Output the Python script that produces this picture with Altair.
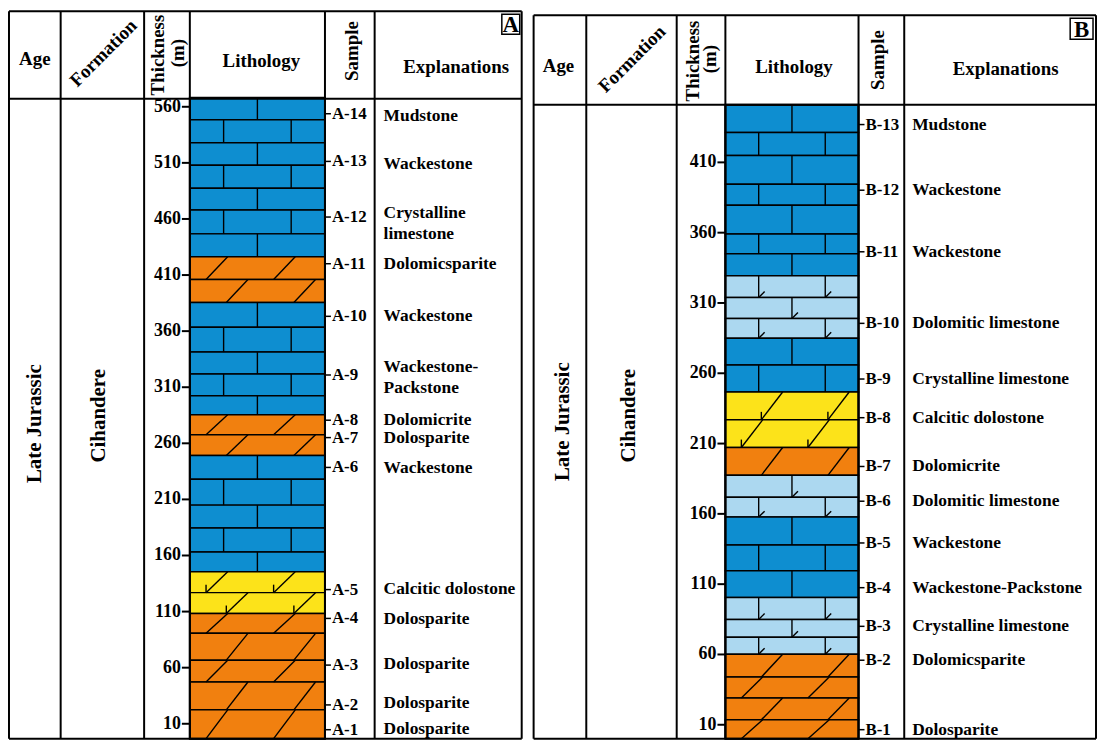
import altair as alt
import pandas as pd

FONT = "Liberation Serif"
ROCKS = ["L", "DL", "D", "C"]
ROCK_COLORS = ["#0e8ed0", "#acd8f0", "#f1800f", "#fce31a"]

# ---------------- Panel A values (metres) ----------------
A_ticks = [10, 60, 110, 160, 210, 260, 310, 360, 410, 460, 510, 560]
A_bounds = [568, 548.5, 528, 507.8, 487.4, 468, 446.7, 426.3, 406, 385.6,
            363.4, 341.3, 321.8, 302.3, 285.5, 267.7, 249.2, 227.9, 204.9,
            184.5, 163.2, 145.5, 126.9, 108.3, 90.6, 66.7, 47.2, 22.4, -3.3]
A_rock = ["L"] * 7 + ["D"] * 2 + ["L"] * 5 + ["D"] * 2 + ["L"] * 5 + ["C"] * 2 + ["D"] * 5
A_variant = [0, 1, 0, 1, 0, 1, 0, 0, 1, 0, 1, 0, 1, 0, 0, 1,
             0, 1, 0, 1, 0, 0, 1, 0, 1, 0, 1, 0]
A_samples = ["A-14", "A-13", "A-12", "A-11", "A-10", "A-9", "A-8", "A-7",
             "A-6", "A-5", "A-4", "A-3", "A-2", "A-1"]
A_sample_pos = [553.8, 511.3, 461.7, 420.1, 373.2, 320.9, 280.6, 265.1,
                238.5, 129.6, 103.9, 62.3, 26.8, 4.7]
A_expl = ["Mudstone", "Wackestone", "Crystalline", "limestone", "Dolomicsparite",
          "Wackestone", "Wackestone-", "Packstone", "Dolomicrite", "Dolosparite",
          "Wackestone", "Calcitic dolostone", "Dolosparite", "Dolosparite",
          "Dolosparite", "Dolosparite"]
A_expl_pos = [552.1, 508.7, 465.3, 446.7, 420.1, 373.2, 328.0, 309.4, 281.2,
              264.9, 237.6, 130.5, 103.0, 63.1, 28.6, 5.6]

# ---------------- Panel B values (metres) ----------------
B_ticks = [10, 60, 110, 160, 210, 260, 310, 360, 410]
B_bounds = [451, 431.2, 414.9, 394.5, 379.5, 359.1, 345, 329.4, 313.9, 299,
            284.9, 265.8, 246.7, 226.9, 207.2, 187.4, 171.8, 157.7, 137.9,
            119.5, 100.5, 84.9, 72.2, 60.2, 43.9, 29.1, 13.5, 0]
B_rock = (["L"] * 7 + ["DL"] * 3 + ["L"] * 2 + ["C"] * 2 + ["D"] + ["DL"] * 2
          + ["L"] * 3 + ["DL"] * 3 + ["D"] * 4)
B_variant = [0, 1, 0, 1, 0, 1, 0, 1, 0, 1, 0, 1, 1, 0, 1, 0, 1, 0, 1, 0,
             1, 0, 1, 1, 0, 1, 0]
B_samples = ["B-13", "B-12", "B-11", "B-10", "B-9", "B-8", "B-7", "B-6",
             "B-5", "B-4", "B-3", "B-2", "B-1"]
B_sample_pos = [436.9, 390.2, 346.4, 295.5, 255.9, 228.4, 193.7, 169.0,
                139.3, 107.5, 80.0, 55.9, 6.5]
B_expl = ["Mudstone", "Wackestone", "Wackestone", "Dolomitic limestone",
          "Crystalline limestone", "Calcitic dolostone", "Dolomicrite",
          "Dolomitic limestone", "Wackestone", "Wackestone-Packstone",
          "Crystalline limestone", "Dolomicsparite", "Dolosparite"]
B_expl_pos = B_sample_pos

# ---------------- layout (pixels, per panel) ----------------
GA = dict(W=524, H=734, ydom=(-4.17, 645.96), lith=(183, 319),
          cols=[1, 53, 137, 183, 319, 369, 517], top=1, head=89, bottom=733,
          expl_x=378,
          header=[("Age", 27, 49, 0, 19), ("Formation", 96, 43, 315, 19),
                  ("Thickness", 151, 45, 270, 19), ("(m)", 171, 43, 270, 19),
                  ("Lithology", 255, 51, 0, 19), ("Sample", 346, 41, 270, 19),
                  ("Explanations", 451, 57, 0, 19),
                  ("Late Jurassic", 27, 416, 270, 21), ("Cihandere", 92, 408, 270, 21)],
          box=("A", 497, 4, 515, 24))
GB = dict(W=572, H=734, ydom=(-0.60, 518.13), lith=(198, 332),
          cols=[5, 58, 149, 198, 332, 378, 571], top=5, head=95, bottom=733,
          expl_x=386,
          header=[("Age", 30, 56, 0, 19), ("Formation", 104, 49, 315, 19),
                  ("Thickness", 165, 51, 270, 19), ("(m)", 183, 49, 270, 19),
                  ("Lithology", 267, 57, 0, 19), ("Sample", 352, 50, 270, 19),
                  ("Explanations", 480, 59, 0, 19),
                  ("Late Jurassic", 35, 414, 270, 21), ("Cihandere", 101, 408, 270, 21)],
          box=("B", 545, 8, 568, 29))


def panel(bounds, rock, variant, ticks, samples, spos, expl, epos, G):
    W, H = G["W"], G["H"]
    y0, y1 = G["ydom"]
    ppm = H / (y1 - y0)
    L, R = G["lith"]
    wcol = R - L
    ys = alt.Scale(domain=[y0, y1], nice=False, zero=False)
    px = lambda f: alt.X(f, type="quantitative", scale=None)
    my = lambda f: alt.Y(f, type="quantitative", scale=ys, axis=None)

    rows = pd.DataFrame({"top": bounds[:-1], "bottom": bounds[1:],
                         "rock": rock, "v": variant})
    rows["x"] = L
    rows["x2"] = R

    seg, ticks_c = [], []
    for t, b, r, v in zip(rows["top"], rows["bottom"], rows["rock"], rows["v"]):
        if r in ("L", "DL"):
            for f in ([0.5] if v == 0 else [0.25, 0.75]):
                x = L + f * wcol
                seg.append(dict(x=x, x2=x, y=t, y2=b))
                if r == "DL":
                    ticks_c.append(dict(x=x, x2=x + 6, y=b, y2=b + 6 / ppm))
        else:
            for f in ([0.12, 0.62] if v == 0 else [0.27, 0.77]):
                xb = L + f * wcol
                seg.append(dict(x=xb, x2=xb + 0.16 * wcol, y=b, y2=t))
                if r == "C":
                    ticks_c.append(dict(x=xb, x2=xb, y=b, y2=b + 8 / ppm))
    seg = pd.DataFrame(seg + ticks_c)

    rect = alt.Chart(rows).mark_rect(stroke="black", strokeWidth=1.5).encode(
        x=px("x"), x2="x2", y=my("top"), y2="bottom",
        color=alt.Color("rock:N", scale=alt.Scale(domain=ROCKS, range=ROCK_COLORS),
                        legend=None))

    lines = alt.Chart(seg).mark_rule(color="black", strokeWidth=1.4).encode(
        x=px("x"), x2="x2", y=my("y"), y2="y2")

    outline = alt.Chart(pd.DataFrame({"x": [L], "x2": [R], "t": [bounds[0]],
                                      "b": [bounds[-1]]})).mark_rect(
        filled=False, stroke="black", strokeWidth=2).encode(
        x=px("x"), x2="x2", y=my("t"), y2="b")

    # thickness scale (ticks + labels)
    tdf = pd.DataFrame({"v": ticks})
    tdf["x"] = L - 8
    tdf["x2"] = L
    tdf["xt"] = L - 9
    ttick = alt.Chart(tdf).mark_rule(color="black", strokeWidth=2).encode(
        x=px("x"), x2="x2", y=my("v"))
    tlab = alt.Chart(tdf).mark_text(font=FONT, fontSize=18, fontWeight="bold",
                                    align="right", baseline="middle",
                                    color="black").encode(
        x=px("xt"), y=my("v"), text=alt.Text("v:Q", format="d"))

    sdf = pd.DataFrame({"s": samples, "y": spos})
    sdf["x"] = R
    sdf["x2"] = R + 6
    sdf["xt"] = R + 7
    stick = alt.Chart(sdf).mark_rule(color="black", strokeWidth=1.5).encode(
        x=px("x"), x2="x2", y=my("y"))
    stext = alt.Chart(sdf).mark_text(font=FONT, fontSize=17, fontWeight="bold",
                                     align="left", baseline="middle",
                                     color="black").encode(
        x=px("xt"), y=my("y"), text="s:N")

    edf = pd.DataFrame({"e": expl, "y": epos})
    edf["x"] = G["expl_x"]
    etext = alt.Chart(edf).mark_text(font=FONT, fontSize=17.5, fontWeight="bold",
                                     align="left", baseline="middle",
                                     color="black").encode(
        x=px("x"), y=my("y"), text="e:N")

    # table frame (pixels)
    c = G["cols"]
    fr = [dict(x=xx, x2=xx, y=G["top"], y2=G["bottom"]) for xx in c]
    fr += [dict(x=c[0], x2=c[-1], y=yy, y2=yy) for yy in (G["top"], G["head"], G["bottom"])]
    frame = alt.Chart(pd.DataFrame(fr)).mark_rule(color="black", strokeWidth=2).encode(
        x=px("x"), x2="x2", y=alt.Y("y:Q", scale=None), y2="y2")

    hdf = pd.DataFrame(G["header"], columns=["t", "x", "y", "a", "s"])
    htext = alt.Chart(hdf).mark_text(font=FONT, fontWeight="bold", align="center",
                                     baseline="middle", color="black").encode(
        x=px("x"), y=alt.Y("y:Q", scale=None), text="t:N",
        angle=alt.Angle("a:Q", scale=None), size=alt.Size("s:Q", scale=None))

    bt, bx, by, bx2, by2 = G["box"]
    bdf = pd.DataFrame({"t": [bt], "x": [bx], "y": [by], "x2": [bx2], "y2": [by2],
                        "cx": [(bx + bx2) / 2], "cy": [(by + by2) / 2 + 1]})
    box = alt.Chart(bdf).mark_rect(filled=False, stroke="black", strokeWidth=1.5).encode(
        x=px("x"), x2="x2", y=alt.Y("y:Q", scale=None), y2="y2")
    boxt = alt.Chart(bdf).mark_text(font=FONT, fontWeight="bold", fontSize=23,
                                    align="center", baseline="middle",
                                    color="black").encode(
        x=px("cx"), y=alt.Y("cy:Q", scale=None), text="t:N")

    return alt.layer(rect, lines, outline, ttick, tlab, stick, stext, etext,
                     frame, htext, box, boxt).properties(width=W, height=H)


pA = panel(A_bounds, A_rock, A_variant, A_ticks, A_samples, A_sample_pos,
           A_expl, A_expl_pos, GA)
pB = panel(B_bounds, B_rock, B_variant, B_ticks, B_samples, B_sample_pos,
           B_expl, B_expl_pos, GB)

chart = (alt.hconcat(pA, pB, spacing=0)
         .properties(padding=0)
         .configure_view(stroke=None)
         .configure_axis(grid=False))

chart.save("out.html", embed_options={"renderer": "svg", "actions": False})
